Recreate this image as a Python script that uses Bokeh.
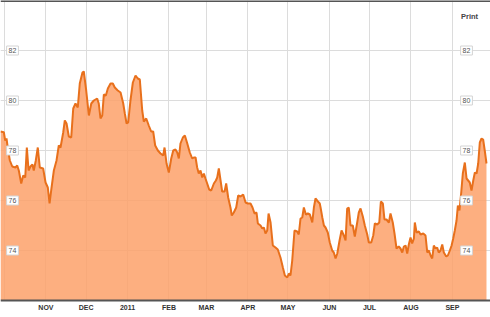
from bokeh.plotting import figure
from bokeh.models import FixedTicker, Label, LabelSet, Span, Range1d, BoxAnnotation, ColumnDataSource
from bokeh.core.properties import value
from bokeh.embed import file_html
from bokeh.resources import INLINE

# x = days since 2010-10-01
days = [-3.0, -0.5, 0.5, 1.5, 2.5, 4.0, 5.8, 8.2, 9.5, 10.7, 12.5, 14.0, 15.5, 16.7, 18.0, 19.4, 20.9, 21.9, 23.4, 24.9,
        26.4, 28.9, 30.7, 32.4, 33.7, 34.9, 36.9, 38.9, 40.6, 41.9, 43.9, 45.1, 46.4, 48.1, 49.9, 51.4, 53.1, 54.8, 56.3, 58.3,
        59.3, 61.1, 63.1, 64.9, 66.8, 69.3, 70.5, 71.8, 73.1, 74.3, 75.8, 77.3, 79.3, 81.0, 82.5, 84.7, 86.8, 88.8, 90.0, 91.3,
        92.5, 94.2, 96.0, 98.0, 99.7, 101.2, 103.0, 104.2, 106.0, 107.9, 109.7, 111.2, 112.7, 114.7, 116.7,
        118.7, 119.7, 121.2, 122.9, 124.7, 126.2, 127.9, 129.2, 130.4, 131.6, 133.4, 134.9, 136.7, 138.6, 140.4, 141.6, 142.9,
        144.1, 145.3, 146.6, 147.9, 149.1, 150.3, 151.6, 153.1, 154.6, 156.6, 158.1, 159.1, 160.3, 161.6, 162.8, 164.6, 165.8,
        167.3, 169.0, 170.0, 171.5, 173.3, 174.8, 176.5,
        178.5, 180.3, 182.0, 184.0, 185.5, 187.0, 188.5, 189.5, 191.5, 192.8, 194.0, 195.2, 196.5, 197.5, 199.0, 200.7, 202.7,
        204.4, 206.4, 208.2, 209.7, 211.5, 212.7, 213.9, 215.2, 216.9, 218.9, 220.1, 221.4, 222.7, 223.9, 225.4, 226.9, 228.4,
        230.2, 231.4, 232.6, 234.4, 235.8,
        236.4, 237.7, 238.9, 240.1, 241.8, 243.3, 245.1, 246.3, 247.6, 248.9, 250.6, 252.1, 253.8, 255.1, 256.3, 257.5, 258.8,
        260.5, 262.0, 263.8, 265.0, 266.3, 268.0, 269.5, 271.3, 272.5, 274.3, 275.8, 277.0, 278.8, 280.3, 281.5, 283.0, 284.2,
        285.7, 287.5, 288.7, 290.4, 291.7, 293.2, 294.9,
        296.2, 297.5, 298.7, 300.0, 301.2, 302.4, 303.7, 304.9, 306.2, 306.9, 308.2, 309.9, 311.2, 313.2, 314.9, 316.2, 317.4,
        318.7, 319.9, 321.1, 322.4, 323.6, 324.8, 326.1, 327.4, 328.6, 330.4, 331.6, 333.1, 334.4, 335.6, 336.8, 338.1, 339.1,
        340.3, 341.6, 342.8, 344.3, 345.6, 346.8, 348.0, 349.3, 350.6, 351.8, 353.1, 354.3, 355.5, 356.8, 358.0, 359.2, 360.5]

values = [78.76, 78.73, 78.4, 78.48, 78.08, 77.6, 77.36, 77.32, 77.4, 77.2, 76.68, 77.0, 76.92, 78.12, 77.2, 77.36, 77.44, 77.2, 77.6, 78.12,
          77.32, 77.28, 76.72, 76.52, 75.88, 76.4, 77.2, 77.6, 78.2, 78.12, 78.72, 79.2, 79.08, 78.56, 78.52, 79.68, 79.88, 79.72, 80.68, 81.12,
          81.16, 80.4, 79.4, 79.88, 80.0, 80.08, 79.88, 79.28, 79.4, 80.24, 80.2, 80.48, 80.68, 80.68, 80.52, 80.4, 80.32, 79.88, 79.48, 79.08,
          79.12, 80.0, 80.72, 81.0, 80.88, 80.84, 79.6, 79.16, 79.28, 79.0, 78.76, 78.76, 78.2, 78.0, 77.88,
          77.8, 78.12, 77.48, 77.12, 77.68, 78.0, 78.04, 77.92, 77.68, 78.28, 78.52, 78.6, 78.28, 77.92, 77.68, 77.72, 77.72,
          77.32, 77.08, 77.2, 76.92, 77.08, 76.88, 76.68, 76.44, 76.4, 76.68, 76.8, 76.92, 77.28, 76.8, 76.36, 76.36, 76.68,
          76.12, 75.72, 75.4, 75.52, 75.72, 76.2, 76.16,
          76.24, 75.92, 75.88, 75.88, 75.72, 75.48, 75.52, 75.08, 75.0, 74.88, 74.92, 74.68, 74.8, 75.48, 75.12, 74.2, 74.12,
          74.04, 73.72, 73.32, 73.0, 72.92, 73.08, 73.0, 73.6, 74.8, 74.76, 74.64, 75.28, 75.32, 75.72, 75.44, 75.48, 75.44,
          75.12, 75.72, 76.08, 75.96, 75.88,
          75.72, 75.32, 75.0, 74.92, 74.72, 74.32, 74.0, 73.92, 73.68, 73.88, 74.4, 74.8, 74.6, 74.4, 75.68, 75.72, 75.0,
          75.0, 74.56, 75.12, 75.52, 75.68, 75.36, 75.0, 74.64, 74.32, 74.32, 74.6, 75.08, 75.04, 75.12, 75.96, 75.88, 75.24,
          75.24, 75.12, 75.48, 75.12, 74.68, 74.08, 74.16,
          74.08, 73.92, 74.16, 74.2, 73.88, 74.24, 74.52, 74.28, 74.48, 75.12, 74.72, 74.76, 74.64, 74.68, 74.6, 73.92, 74.0,
          73.8, 73.68, 74.2, 74.08, 74.12, 73.92, 74.0, 74.24, 73.92, 73.76, 73.8, 74.0, 74.2, 74.48, 74.8, 75.2, 75.8,
          75.6, 76.32, 77.08, 77.52, 76.88, 76.8, 76.72, 76.4, 76.8, 77.12, 77.08, 77.48, 78.32, 78.48, 78.44, 78.0, 77.48]

month_days = [0, 31, 61, 92, 123, 151, 182, 212, 243, 273, 304, 335]
month_labels = ["", "NOV", "DEC", "2011", "FEB", "MAR", "APR", "MAY", "JUN", "JUL", "AUG", "SEP"]
y_ticks = [74, 76, 78, 80, 82]

Y_BASE = 72.0   # value at the x axis line
Y_TOP = 84.0
PX_PER_UNIT = 25.0
H = 317

p = figure(width=490, height=H, output_backend="svg", toolbar_location=None,
           x_range=Range1d(-3.0, 363.5), y_range=Range1d(Y_TOP - H / PX_PER_UNIT, Y_TOP),
           min_border_left=0, min_border_right=0, min_border_top=0, min_border_bottom=0)
p.outline_line_color = None
p.background_fill_color = "white"

p.xaxis.visible = False
p.yaxis.visible = False
p.ygrid.ticker = FixedTicker(ticks=y_ticks)
p.xgrid.ticker = FixedTicker(ticks=month_days)
p.grid.grid_line_color = "#dcdcdc"
p.grid.grid_line_width = 1

p.varea(x=days, y1=Y_BASE, y2=values, fill_color="#FDA16A", fill_alpha=0.85)
p.line(days, values, line_color="#E8701C", line_width=2)

# white band under the axis line (hides grid lines there)
p.add_layout(BoxAnnotation(top=Y_BASE, fill_color="white", fill_alpha=1.0, line_color=None))
p.add_layout(Span(location=Y_BASE, dimension="width", line_color="#555555", line_width=2))
p.add_layout(Span(location=Y_TOP, dimension="width", line_color="#555555", line_width=3))

src = ColumnDataSource(dict(x=month_days, text=month_labels))
p.add_layout(LabelSet(x="x", y=Y_BASE - 6.5 / PX_PER_UNIT, text="text", source=src,
                      text_align="center", text_baseline="middle", text_font_size=value("7px"),
                      text_font_style="bold", text_font=value("Liberation Sans"), text_color="#333333"))

for t in y_ticks:
    for sx in (12, 466):
        p.add_layout(Label(x=sx, y=t, x_units="screen", text=str(t), text_align="center",
                           text_baseline="middle", background_fill_color="white",
                           border_line_color="#d4d4d4", padding=2, text_font_size="7px",
                           text_font="Liberation Sans", text_color="#555555"))

p.add_layout(Label(x=469, y=Y_TOP - 16 / PX_PER_UNIT, x_units="screen", text="Print", text_align="center",
                   text_baseline="middle", text_font_size="7.5px", text_font_style="bold",
                   text_font="Liberation Sans", text_color="#444444"))

open("out.html", "w").write(file_html(p, INLINE))
